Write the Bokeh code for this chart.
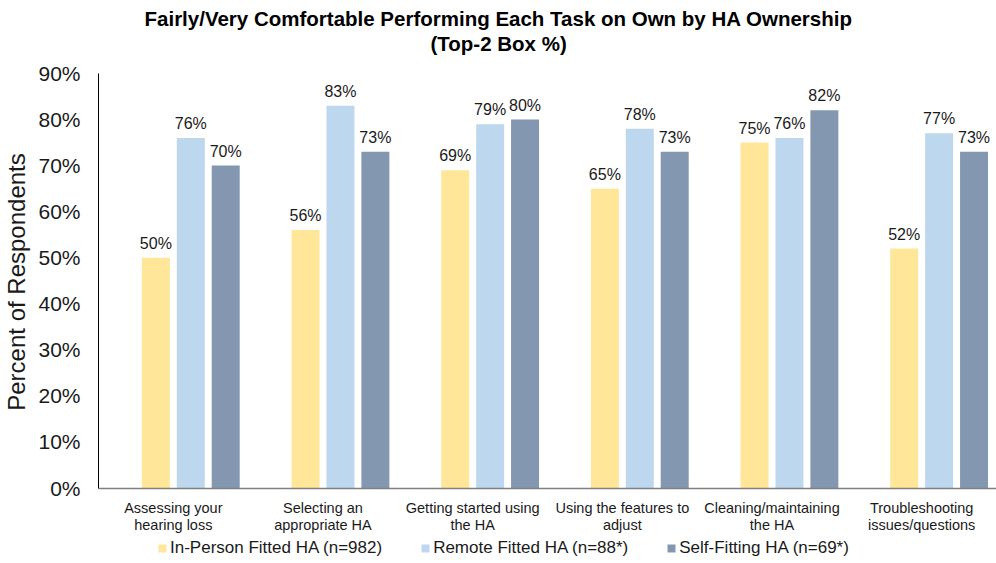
from bokeh.plotting import figure
from bokeh.models import (ColumnDataSource, FactorRange, Range1d, FixedTicker, LabelSet,
                          Legend, LegendItem, Label)
from bokeh.core.properties import value
from bokeh.transform import dodge
from bokeh.embed import file_html
from bokeh.resources import INLINE

categories = ["Assessing your\nhearing loss", "Selecting an\nappropriate HA",
              "Getting started using\nthe HA", "Using the features to\nadjust",
              "Cleaning/maintaining\nthe HA", "Troubleshooting\nissues/questions"]
series_names = ["In-Person Fitted HA (n=982)", "Remote Fitted HA (n=88*)",
                "Self-Fitting HA (n=69*)"]
in_person = [50, 56, 69, 65, 75, 52]
remote = [76, 83, 79, 78, 76, 77]
self_fit = [70, 73, 80, 73, 82, 73]
y_ticks = [0, 10, 20, 30, 40, 50, 60, 70, 80, 90]
title_lines = ["Fairly/Very Comfortable Performing Each Task on Own by HA Ownership",
               "(Top-2 Box %)"]

colors = ["#FFE699", "#BDD7EE", "#8497B0"]
offsets = [-0.1167, 0.1167, 0.35]
FONT = "Liberation Sans"

# layout: value axis 0..90 maps to pixel rows 487.5..73 of a 563 px tall canvas
H = 563
Y0_PX, Y90_PX = 487.5, 73.0
PPU = (Y0_PX - Y90_PX) / 90.0
y_top = 90 + Y90_PX / PPU
y_bot = -(H - Y0_PX) / PPU

src = ColumnDataSource(data=dict(
    cat=categories,
    s0=in_person, s1=remote, s2=self_fit,
    l0=[f"{v}%" for v in in_person],
    l1=[f"{v}%" for v in remote],
    l2=[f"{v}%" for v in self_fit],
))

p = figure(width=996, height=H, x_range=FactorRange(*categories, range_padding=0),
           y_range=Range1d(y_bot, y_top), output_backend="svg", toolbar_location=None,
           min_border_left=97, min_border_right=0, min_border_top=0, min_border_bottom=0)
p.outline_line_color = None
p.xgrid.visible = False
p.ygrid.visible = False
p.background_fill_color = "white"
p.border_fill_color = "white"

# titles (two centred lines)
for txt, py in [(title_lines[0], 18), (title_lines[1], 43)]:
    p.add_layout(Label(x=(498 - 97) / 150.0, y=90 + (Y90_PX - py) / PPU, text=txt,
                       text_align="center", text_baseline="middle", text_font=FONT,
                       text_font_size="20.5px", text_font_style="bold", text_color="#000000"))

renderers = []
for i, key in enumerate(["s0", "s1", "s2"]):
    r = p.vbar(x=dodge("cat", offsets[i], range=p.x_range), top=key, width=0.187,
               source=src, fill_color=colors[i], line_color=None)
    renderers.append(r)
    lab = LabelSet(x=dodge("cat", offsets[i], range=p.x_range), y=key, text="l%d" % i,
                   source=src, text_align="center", text_baseline="alphabetic", y_offset=9,
                   text_font=value(FONT), text_font_size=value("16px"), text_color=value("#1a1a1a"))
    p.add_layout(lab)

# y axis
p.yaxis.bounds = (0, 90)
p.yaxis.ticker = FixedTicker(ticks=y_ticks)
p.yaxis.major_label_overrides = {t: f"{t}%" for t in y_ticks}
p.yaxis.major_tick_line_color = None
p.yaxis.minor_tick_line_color = None
p.yaxis.major_tick_out = 0
p.yaxis.major_label_standoff = 18
p.yaxis.major_label_text_font = FONT
p.yaxis.major_label_text_font_size = "21px"
p.yaxis.major_label_text_color = "#1a1a1a"
p.yaxis.axis_line_color = "#000000"
p.yaxis.axis_line_width = 1
p.yaxis.axis_label = "Percent of Respondents"
p.yaxis.axis_label_text_font = FONT
p.yaxis.axis_label_text_font_size = "24px"
p.yaxis.axis_label_text_font_style = "normal"
p.yaxis.axis_label_text_color = "#1a1a1a"
p.yaxis.axis_label_standoff = 5

# x axis drawn at value 0
p.xaxis.fixed_location = 0
p.xaxis.major_tick_line_color = None
p.xaxis.minor_tick_line_color = None
p.xaxis.major_tick_out = 0
p.xaxis.major_label_standoff = 12
p.xaxis.major_label_text_font = FONT
p.xaxis.major_label_text_font_size = "14.5px"
p.xaxis.major_label_text_color = "#1a1a1a"
p.xaxis.major_label_text_line_height = 1.05
p.xaxis.axis_line_color = "#808080"
p.xaxis.axis_line_width = 1.5

legend = Legend(items=[LegendItem(label=series_names[i], renderers=[renderers[i]]) for i in range(3)],
                orientation="horizontal", location=(59, 5), glyph_width=10, glyph_height=10,
                label_standoff=3, spacing=38, padding=0, margin=0,
                label_text_font=FONT, label_text_font_size="17px", label_text_color="#1a1a1a",
                border_line_color=None, background_fill_alpha=0)
p.add_layout(legend, "center")

open("out.html", "w").write(file_html(p, INLINE))
